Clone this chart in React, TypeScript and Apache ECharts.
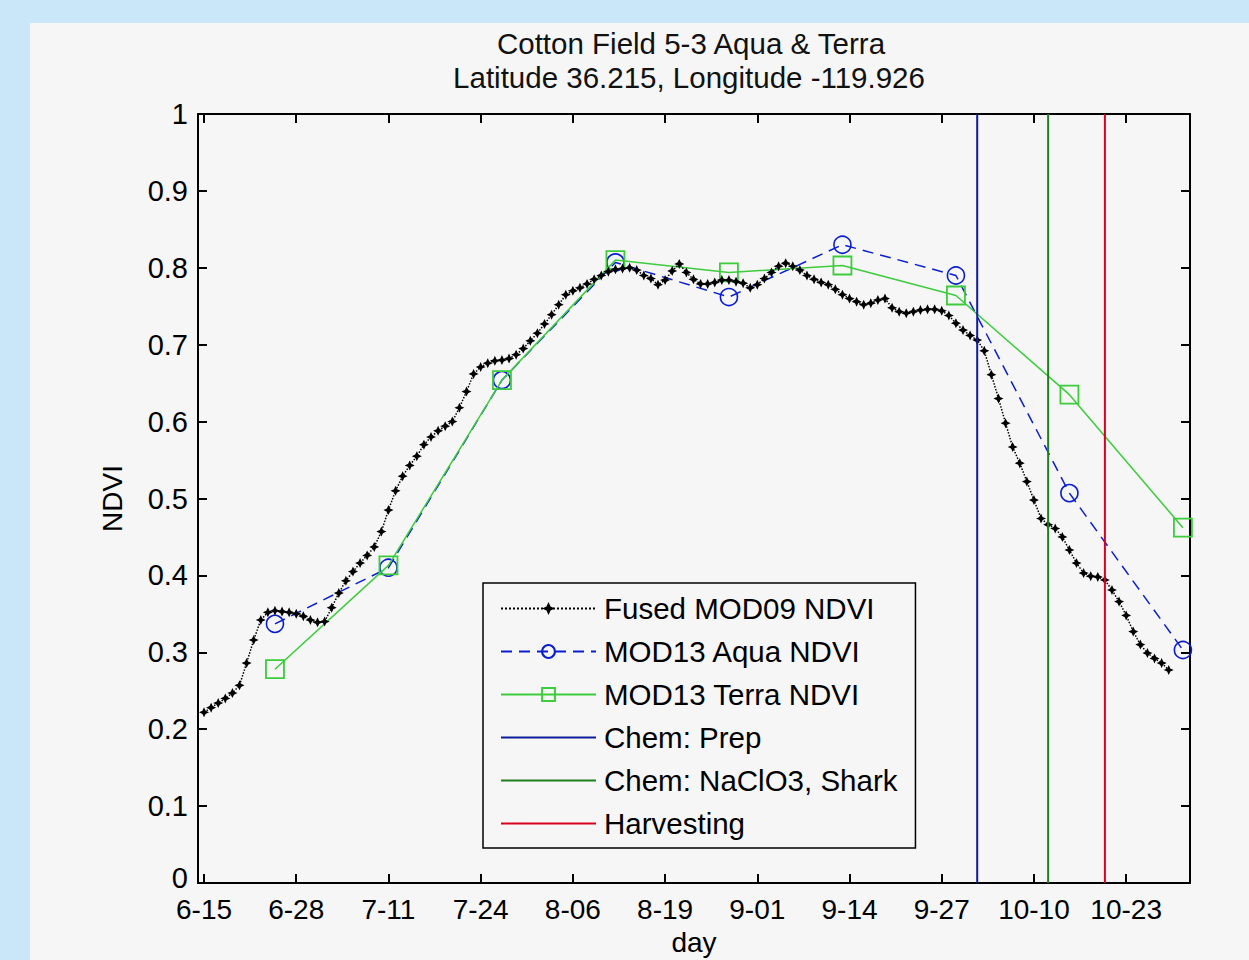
import React, { useEffect, useRef } from "react";
import * as echarts from "echarts";

// ---- data (x = days after 6-15) ----
const tickDays = [0, 13, 26, 39, 52, 65, 78, 91, 104, 117, 130];
const tickLabels = ["6-15", "6-28", "7-11", "7-24", "8-06", "8-19", "9-01", "9-14", "9-27", "10-10", "10-23"];

// Fused MOD09 daily NDVI, day 0 .. 136
const fusedNDVI = [
  0.222, 0.228, 0.234, 0.240, 0.247, 0.257, 0.286, 0.316, 0.342, 0.352,
  0.354, 0.353, 0.352, 0.350, 0.347, 0.342, 0.339, 0.340, 0.358, 0.377,
  0.393, 0.405, 0.416, 0.426, 0.437, 0.457, 0.485, 0.510, 0.529, 0.543,
  0.555, 0.570, 0.580, 0.588, 0.594, 0.600, 0.618, 0.639, 0.662, 0.671,
  0.676, 0.679, 0.680, 0.682, 0.687, 0.695, 0.705, 0.715, 0.727, 0.739,
  0.752, 0.765, 0.770, 0.774, 0.779, 0.785, 0.790, 0.795, 0.798, 0.799,
  0.800, 0.797, 0.790, 0.786, 0.778, 0.784, 0.796, 0.805, 0.794, 0.785,
  0.779, 0.779, 0.781, 0.784, 0.784, 0.782, 0.780, 0.774, 0.778, 0.786,
  0.794, 0.802, 0.806, 0.802, 0.797, 0.790, 0.785, 0.781, 0.778, 0.772,
  0.765, 0.760, 0.756, 0.752, 0.754, 0.758, 0.760, 0.748, 0.743, 0.741,
  0.743, 0.745, 0.746, 0.746, 0.744, 0.738, 0.728, 0.719, 0.712, 0.706,
  0.692, 0.661, 0.630, 0.598, 0.567, 0.546, 0.522, 0.498, 0.474, 0.466,
  0.461, 0.450, 0.433, 0.416, 0.403, 0.399, 0.398, 0.394, 0.381, 0.366,
  0.348, 0.327, 0.310, 0.299, 0.292, 0.286, 0.277,
];

const compositeDays = [10, 26, 42, 58, 74, 90, 106, 122, 138];
const aquaNDVI = [0.337, 0.410, 0.654, 0.807, 0.762, 0.830, 0.790, 0.507, 0.303];
const terraNDVI = [0.278, 0.413, 0.654, 0.810, 0.794, 0.803, 0.764, 0.635, 0.462];

const prepDay = 109;
const chemDay = 119;
const harvestDay = 127;

const FONT = "'Liberation Sans', Arial, sans-serif";
const starPath = "path://M0,-5 L1.6,-1.6 L5,0 L1.6,1.6 L0,5 L-1.6,1.6 L-5,0 L-1.6,-1.6 Z";

export default function App() {
  const ref = useRef<HTMLDivElement>(null);
  useEffect(() => {
    if (!ref.current) return;
    const chart = echarts.init(ref.current, null, { renderer: "svg" });
    const vline = (d: number) => [[d, 0], [d, 1]];
    const titleStyle = { fontFamily: FONT, fontSize: 29.5, fontWeight: "normal", color: "#111" };
    const option: any = {
      animation: false,
      backgroundColor: "#c9e7f8",
      graphic: [
        {
          type: "rect",
          z: -100,
          shape: { x: 30, y: 23, width: 1219, height: 937 },
          style: { fill: "#f6f6f6" },
          silent: true,
        },
      ],
      title: [
        { text: "Cotton Field 5-3 Aqua & Terra", left: 691, textAlign: "center", top: 28, padding: 0, textStyle: titleStyle },
        { text: "Latitude 36.215, Longitude -119.926", left: 689, textAlign: "center", top: 62, padding: 0, textStyle: titleStyle },
      ],
      grid: { left: 198, top: 114, right: 59, bottom: 77, outerBoundsMode: "none", containLabel: false },
      legend: {
        orient: "vertical",
        left: 483,
        top: 583,
        padding: [10, 18, 9, 17],
        itemWidth: 95,
        itemHeight: 16,
        itemGap: 12,
        borderColor: "#000",
        borderWidth: 1.5,
        backgroundColor: "#f6f6f6",
        selectedMode: false,
        textStyle: { fontFamily: FONT, fontSize: 29.5, color: "#000", lineHeight: 31, padding: [0, 0, 0, 3] },
        data: [
          { name: "Fused MOD09 NDVI" },
          { name: "MOD13 Aqua NDVI" },
          { name: "MOD13 Terra NDVI" },
          { name: "Chem: Prep", itemStyle: { opacity: 0 } },
          { name: "Chem: NaClO3, Shark", itemStyle: { opacity: 0 } },
          { name: "Harvesting", itemStyle: { opacity: 0 } },
        ],
      },
      xAxis: [
        {
          type: "value",
          min: -0.85,
          max: 139,
          position: "bottom",
          name: "day",
          nameLocation: "middle",
          nameGap: 45,
          nameTextStyle: { fontFamily: FONT, fontSize: 28, color: "#000" },
          axisLine: { show: true, onZero: false, lineStyle: { color: "#000", width: 2 } },
          axisTick: { show: true, inside: true, length: 9, lineStyle: { color: "#000", width: 2 }, customValues: tickDays },
          axisLabel: {
            show: true,
            margin: 13,
            lineHeight: 26,
            fontFamily: FONT,
            fontSize: 28,
            color: "#000",
            customValues: tickDays,
            formatter: (v: number) => {
              const i = tickDays.indexOf(Math.round(v));
              return i >= 0 ? tickLabels[i] : "";
            },
          },
          splitLine: { show: false },
        },
        {
          type: "value",
          min: -0.85,
          max: 139,
          position: "top",
          axisLine: { show: true, onZero: false, lineStyle: { color: "#000", width: 2 } },
          axisTick: { show: true, inside: true, length: 9, lineStyle: { color: "#000", width: 2 }, customValues: tickDays },
          axisLabel: { show: false },
          splitLine: { show: false },
        },
      ],
      yAxis: [
        {
          type: "value",
          min: 0,
          max: 1,
          interval: 0.1,
          position: "left",
          name: "NDVI",
          nameLocation: "middle",
          nameRotate: 90,
          nameGap: 72,
          nameTextStyle: { fontFamily: FONT, fontSize: 28, color: "#000" },
          axisLine: { show: true, onZero: false, lineStyle: { color: "#000", width: 2 } },
          axisTick: { show: true, inside: true, length: 9, lineStyle: { color: "#000", width: 2 } },
          axisLabel: {
            margin: 10,
            lineHeight: 20,
            fontFamily: FONT,
            fontSize: 29,
            color: "#000",
            formatter: (v: number) => (v === 0 ? "{z|0}" : String(v)),
            rich: {
              z: { fontFamily: FONT, fontSize: 29, color: "#000", lineHeight: 20, padding: [0, 0, 10, 0] },
            },
          },
          splitLine: { show: false },
        },
        {
          type: "value",
          min: 0,
          max: 1,
          interval: 0.1,
          position: "right",
          axisLine: { show: true, onZero: false, lineStyle: { color: "#000", width: 2 } },
          axisTick: { show: true, inside: true, length: 9, lineStyle: { color: "#000", width: 2 } },
          axisLabel: { show: false },
          splitLine: { show: false },
        },
      ],
      series: [
        {
          name: "Fused MOD09 NDVI",
          type: "line",
          data: fusedNDVI.map((v, i) => [i, v]),
          symbol: starPath,
          symbolSize: 10,
          itemStyle: { color: "#000" },
          lineStyle: { color: "#000", width: 1.5, type: "dotted" },
          z: 5,
        },
        {
          name: "MOD13 Aqua NDVI",
          type: "line",
          data: compositeDays.map((d, i) => [d, aquaNDVI[i]]),
          symbol: "circle",
          symbolSize: 17,
          itemStyle: { color: "transparent", borderColor: "#0a1ed0", borderWidth: 1.6 },
          lineStyle: { color: "#0a1ed0", width: 1.5, type: [11, 7] },
          z: 3,
        },
        {
          name: "MOD13 Terra NDVI",
          type: "line",
          data: compositeDays.map((d, i) => [d, terraNDVI[i]]),
          symbol: "rect",
          symbolSize: 18,
          itemStyle: { color: "transparent", borderColor: "#3ccc3c", borderWidth: 1.8 },
          lineStyle: { color: "#3ccc3c", width: 1.5 },
          z: 4,
        },
        {
          name: "Chem: Prep",
          type: "line",
          data: vline(prepDay),
          symbol: "none",
          lineStyle: { color: "#0d1c9c", width: 2 },
          z: 6,
        },
        {
          name: "Chem: NaClO3, Shark",
          type: "line",
          data: vline(chemDay),
          symbol: "none",
          lineStyle: { color: "#1e7d1e", width: 2 },
          z: 6,
        },
        {
          name: "Harvesting",
          type: "line",
          data: vline(harvestDay),
          symbol: "none",
          lineStyle: { color: "#d8001c", width: 2 },
          z: 6,
        },
      ],
    };
    chart.setOption(option);
    return () => chart.dispose();
  }, []);
  return (
    <div
      ref={ref}
      style={{ position: "absolute", left: 0, top: 0, width: 1249, height: 960 }}
    />
  );
}
